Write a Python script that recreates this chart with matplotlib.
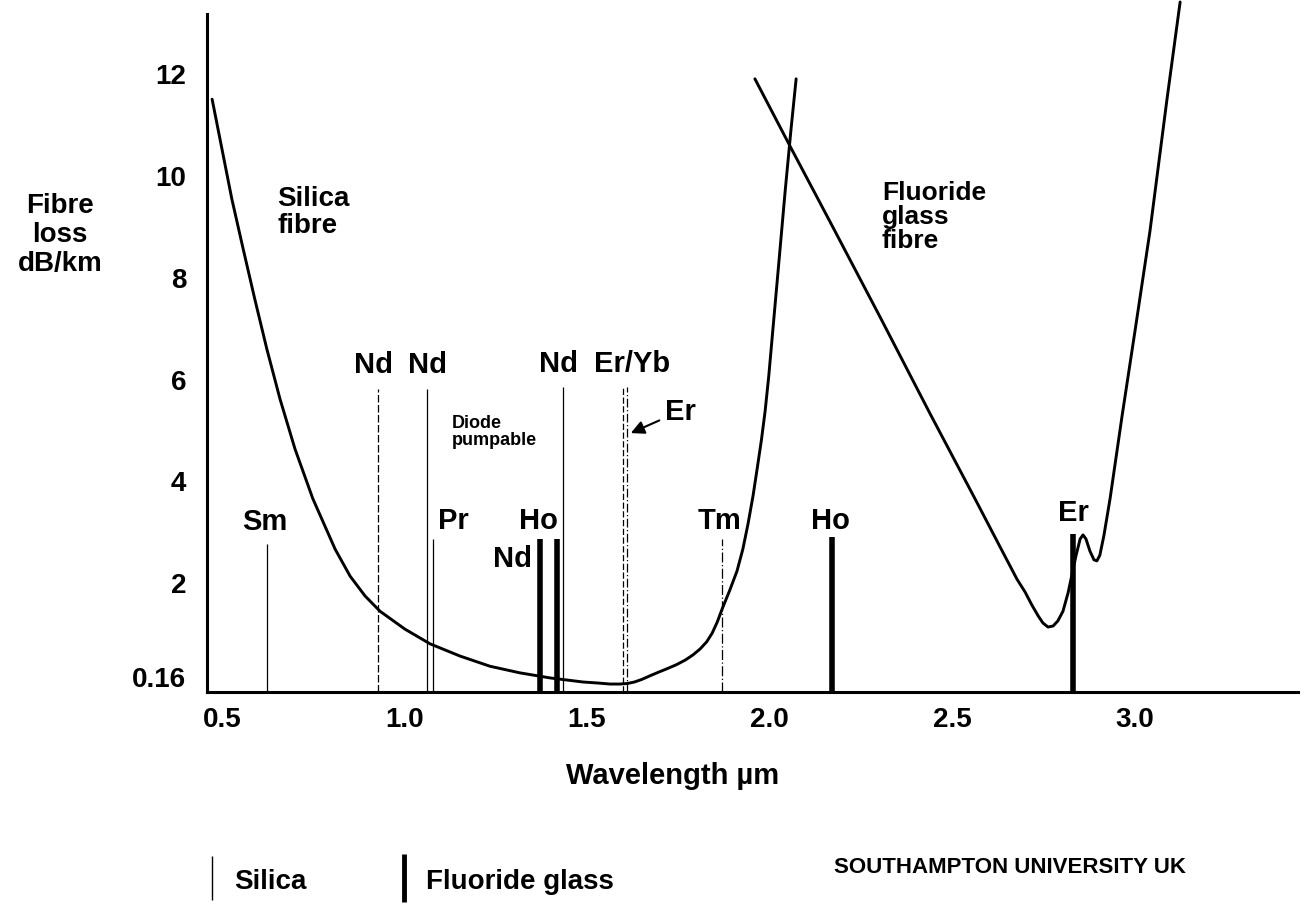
import matplotlib
matplotlib.use('Agg')
import matplotlib.pyplot as plt
from matplotlib.lines import Line2D

plt.rcParams['font.family'] = ['Liberation Sans', 'DejaVu Sans']

# fibre loss curves (wavelength in um, loss in the drawn dB/km scale)
silica_wl = [0.473, 0.500, 0.527, 0.558, 0.590, 0.623, 0.659, 0.700, 0.749, 0.810,
             0.851, 0.892, 0.933, 1.001, 1.070, 1.152, 1.234, 1.316, 1.399, 1.489,
             1.530, 1.563, 1.590, 1.610, 1.630, 1.650, 1.672, 1.695, 1.719, 1.745,
             1.769, 1.790, 1.810, 1.828, 1.843, 1.857, 1.870, 1.891, 1.911, 1.927,
             1.941, 1.955, 1.966, 1.978, 1.988, 1.998, 2.007, 2.026, 2.043, 2.059, 2.073]
silica_loss = [11.49, 10.51, 9.53, 8.55, 7.56, 6.58, 5.60, 4.62, 3.64, 2.65,
               2.12, 1.73, 1.43, 1.08, 0.79, 0.55, 0.35, 0.22, 0.12, 0.04,
               0.02, 0.00, 0.00, 0.01, 0.04, 0.09, 0.16, 0.23, 0.30, 0.38,
               0.47, 0.57, 0.69, 0.83, 1.00, 1.22, 1.47, 1.84, 2.22, 2.65,
               3.14, 3.70, 4.22, 4.80, 5.36, 6.05, 6.78, 8.31, 9.69, 10.90, 11.89]

fluoride_wl = [1.960, 2.059, 2.166, 2.303, 2.440, 2.563, 2.632, 2.678, 2.700, 2.719,
               2.736, 2.749, 2.763, 2.777, 2.790, 2.804, 2.818, 2.829, 2.840, 2.851,
               2.859, 2.867, 2.878, 2.889, 2.897, 2.905, 2.916, 2.933, 2.966, 3.001,
               3.042, 3.089, 3.125]
fluoride_loss = [11.89, 10.53, 9.08, 7.21, 5.31, 3.64, 2.69, 2.06, 1.81, 1.55,
                 1.34, 1.20, 1.12, 1.14, 1.24, 1.43, 1.79, 2.16, 2.53, 2.85,
                 2.93, 2.85, 2.61, 2.44, 2.42, 2.53, 2.91, 3.64, 5.27, 6.92,
                 8.88, 11.49, 13.40]

# laser lines: silica hosts (thin) and fluoride glass hosts (thick)
silica_ions = ['Sm', 'Nd', 'Nd', 'Pr', 'Nd', 'Er/Yb', 'Er', 'Tm']
silica_line_wl = [0.623, 0.927, 1.062, 1.078, 1.434, 1.599, 1.610, 1.870]
silica_line_top = [2.75, 5.80, 5.80, 2.85, 5.84, 5.84, 5.84, 2.85]
silica_line_style = ['-', (0, (6, 2)), '-', '-', '-', (0, (5, 2)), (0, (7, 2, 1, 2)), (0, (8, 2, 1, 2))]

fluoride_ions = ['Nd', 'Ho', 'Ho', 'Er']
fluoride_line_wl = [1.371, 1.418, 2.171, 2.832]
fluoride_line_top = [2.85, 2.85, 2.89, 2.95]

x_ticks = [0.5, 1.0, 1.5, 2.0, 2.5, 3.0]
x_tick_labels = ['0.5', '1.0', '1.5', '2.0', '2.5', '3.0']
y_ticks = [0.16, 2, 4, 6, 8, 10, 12]
y_tick_labels = ['0.16', '2', '4', '6', '8', '10', '12']

fig = plt.figure(figsize=(13.06, 9.12), dpi=100)
ax = fig.add_axes([0.1585, 0.2401, 0.8354, 0.7599])
ymin, ymax = -0.157, 13.458
ax.set_xlim(0.459, 3.448)
ax.set_ylim(ymin, ymax)

ax.plot(silica_wl, silica_loss, color='black', lw=2.1, solid_capstyle='round', solid_joinstyle='round')
ax.plot(fluoride_wl, fluoride_loss, color='black', lw=2.1, solid_capstyle='round', solid_joinstyle='round')

for wl, top, ls in zip(silica_line_wl, silica_line_top, silica_line_style):
    ax.vlines(wl, ymin, top, colors='black', lw=0.9, linestyles=[ls])
ax.vlines(fluoride_line_wl, ymin, fluoride_line_top, colors='black', lw=4.0)

# ion labels
lab = dict(fontsize=21, fontweight='bold', ha='center', va='center')
ax.text(0.618, 3.20, 'Sm', **lab)
ax.text(0.914, 6.29, 'Nd', **lab)
ax.text(1.062, 6.29, 'Nd', **lab)
ax.text(1.133, 3.22, 'Pr', **lab)
ax.text(1.368, 3.22, 'Ho', **lab)
ax.text(1.295, 2.48, 'Nd', **lab)
ax.text(1.421, 6.31, 'Nd', **lab)
ax.text(1.623, 6.31, 'Er/Yb', **lab)
ax.text(1.864, 3.22, 'Tm', **lab)
ax.text(2.168, 3.22, 'Ho', **lab)
ax.text(2.832, 3.38, 'Er', **lab)
ax.annotate('Er', xy=(1.620, 4.93), xytext=(1.755, 5.36), fontsize=21, fontweight='bold',
            ha='center', va='center',
            arrowprops=dict(arrowstyle='-|>', color='black', lw=1.5, mutation_scale=20,
                            shrinkA=2, shrinkB=0))
ax.text(1.130, 4.97, 'Diode\npumpable', fontsize=13, fontweight='bold', ha='left', va='center',
        linespacing=1.0)

ax.text(0.651, 9.29, 'Silica\nfibre', fontsize=20, fontweight='bold', ha='left', va='center',
        linespacing=1.05)
ax.text(2.308, 9.20, 'Fluoride\nglass\nfibre', fontsize=19, fontweight='bold', ha='left', va='center',
        linespacing=1.0)

# axes styling
for side in ['top', 'right']:
    ax.spines[side].set_visible(False)
ax.spines['left'].set_linewidth(2.2)
ax.spines['bottom'].set_linewidth(2.2)
ax.spines['left'].set_bounds(ymin, 13.163)

ax.set_xticks(x_ticks)
ax.set_xticklabels(x_tick_labels, fontsize=20, fontweight='bold')
ax.set_yticks(y_ticks)
ax.set_yticklabels(y_tick_labels, fontsize=20, fontweight='bold')
ax.tick_params(axis='x', length=0, pad=10)
ax.tick_params(axis='y', length=0, pad=15)

ax.set_xlabel('Wavelength \u00b5m', fontsize=21, fontweight='bold', va='center')
ax.xaxis.set_label_coords(0.427, -0.120)
ax.set_ylabel('Fibre\nloss\ndB/km', fontsize=20, fontweight='bold', rotation=0,
              ha='center', va='center', linespacing=1.15)
ax.yaxis.set_label_coords(-0.1347, 0.661)

handles = [Line2D([], [], color='black', marker='|', linestyle='none', markersize=32, markeredgewidth=1.0),
           Line2D([], [], color='black', marker='|', linestyle='none', markersize=34, markeredgewidth=3.5)]
leg = fig.legend(handles, ['Silica', 'Fluoride glass'], loc='center left',
                 bbox_to_anchor=(201 / 1306, 1 - 882 / 912), ncol=2, frameon=False,
                 handlelength=0.8, handletextpad=0.4, columnspacing=3.1,
                 borderpad=0, borderaxespad=0,
                 prop={'size': 20, 'weight': 'bold'})

fig.text(1010 / 1306, 1 - 868 / 912, 'SOUTHAMPTON UNIVERSITY UK', fontsize=16,
         fontweight='bold', ha='center', va='center')

fig.savefig('out.png', dpi=100)
